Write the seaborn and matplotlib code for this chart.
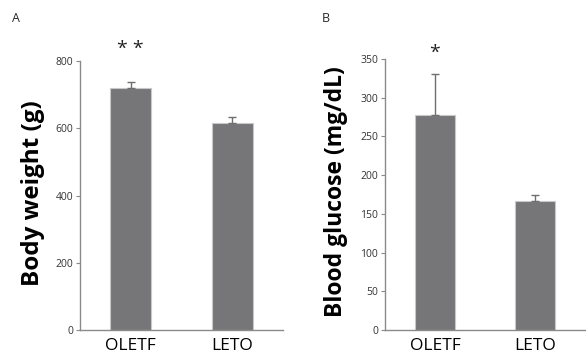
import matplotlib
matplotlib.use("Agg")
import matplotlib.pyplot as plt
import seaborn as sns
import pandas as pd

groups = ["OLETF", "LETO"]
body_weight = [720, 617]
body_weight_err = [18, 15]
blood_glucose = [278, 167]
blood_glucose_err = [53, 8]
bw_ticks = [0, 200, 400, 600, 800]
bg_ticks = [0, 50, 100, 150, 200, 250, 300, 350]

sns.set_style("white")
plt.rcParams['font.family'] = ['Open Sans', 'DejaVu Sans']

fig = plt.figure(figsize=(5.86, 3.62), dpi=100)
axA = fig.add_axes([80/586, 1-330/362, 203/586, 269/362])
axB = fig.add_axes([385/586, 1-330/362, 200/586, 271/362])

bar_color = "#767679"
edge_color = "#c8c8c8"
axis_color = "#8a8a8a"

def panel(ax, vals, errs, ymax, ticks, ylabel, stars, star_y, label_x, label_size):
    df = pd.DataFrame({"group": groups, "value": vals})
    sns.barplot(data=df, x="group", y="value", ax=ax, color=bar_color,
                width=0.4, edgecolor=edge_color, linewidth=0.8, saturation=1)
    ax.errorbar(range(len(groups)), vals, yerr=[[0]*len(errs), errs],
                fmt="none", ecolor="#6e6e6e", elinewidth=1, capsize=3, capthick=1)
    ax.set_xlim(-0.5, 1.5)
    ax.set_ylim(0, ymax)
    ax.set_yticks(ticks)
    ax.set_yticklabels([str(t) for t in ticks], fontsize=7.5, color="#333333")
    ax.tick_params(axis="y", direction="out", length=3, width=0.8, color=axis_color, pad=2, left=True)
    ax.tick_params(axis="x", length=0, labelsize=12.5, pad=6, colors="black")
    ax.set_xlabel("")
    ax.set_ylabel(ylabel, fontsize=label_size, fontweight="bold", color="black")
    ax.yaxis.set_label_coords(label_x, 0.51)
    for s in ["top", "right"]:
        ax.spines[s].set_visible(False)
    for s in ["left", "bottom"]:
        ax.spines[s].set_color(axis_color)
        ax.spines[s].set_linewidth(1)
    ax.text(0, star_y, stars, ha="center", va="center",
            fontsize=14, color="#222222", clip_on=False)

panel(axA, body_weight, body_weight_err, 800, bw_ticks, "Body weight (g)", "* *", 836, -0.17, 17.5)
panel(axB, blood_glucose, blood_glucose_err, 350, bg_ticks, "Blood glucose (mg/dL)", "*", 358, -0.185, 16.5)

fig.text(12/586, 1-18/362, "A", fontsize=9, va="center", ha="left")
fig.text(322/586, 1-18/362, "B", fontsize=9, va="center", ha="left")

fig.savefig("out.png", dpi=100)
